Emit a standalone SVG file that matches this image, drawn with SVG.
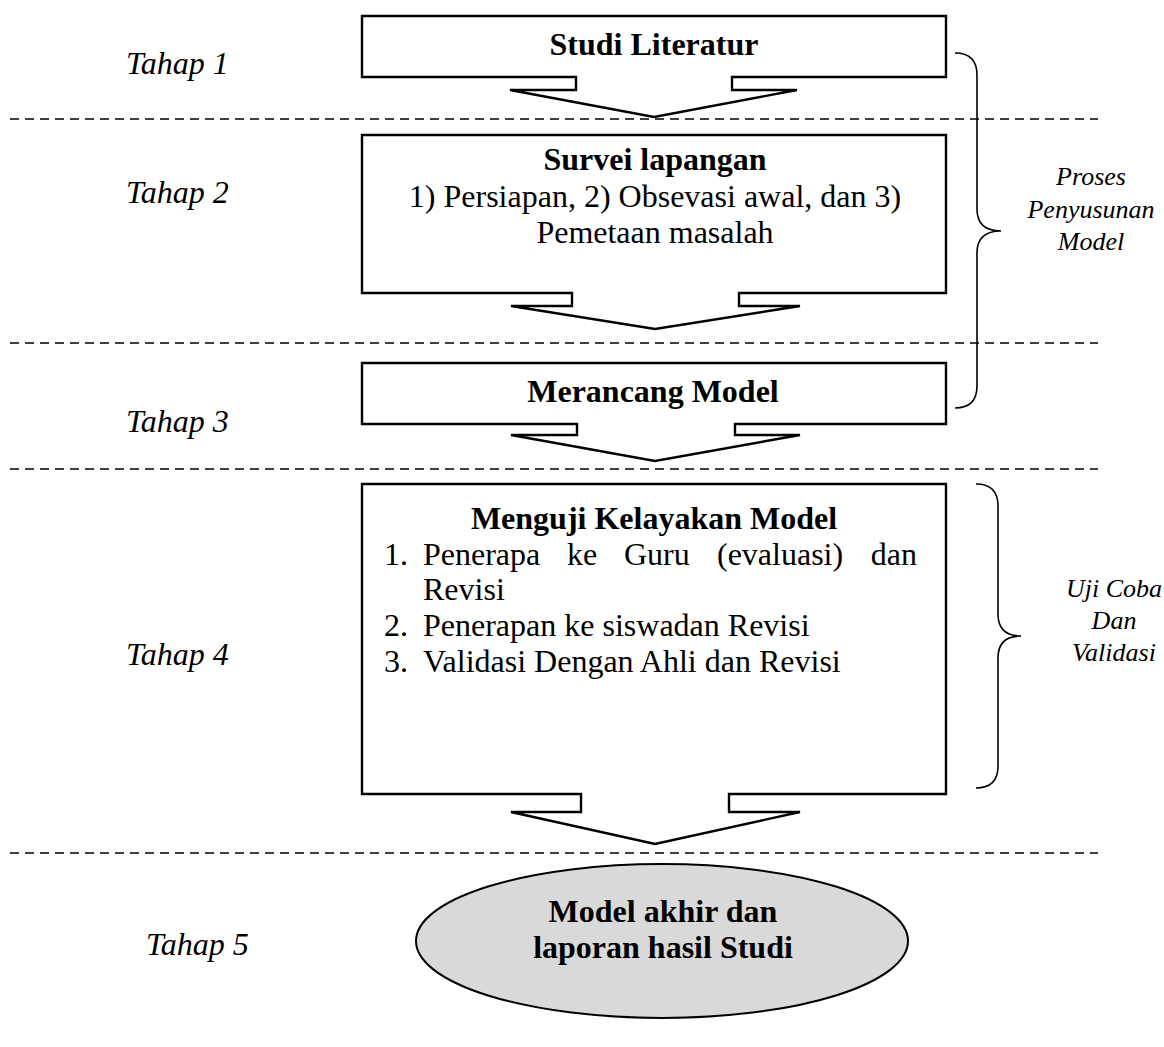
<svg xmlns="http://www.w3.org/2000/svg" width="1164" height="1047" viewBox="0 0 1164 1047">
<style>
.dash{stroke:#000;stroke-width:1.5;stroke-dasharray:9 6;fill:none}
.box{fill:#fff;stroke:#000;stroke-width:2.4;stroke-linejoin:miter}
.brace{fill:none;stroke:#000;stroke-width:1.6}
.tahap{font-family:"Liberation Serif",serif;font-style:italic;font-size:32px;fill:#000}
.side{font-family:"Liberation Serif",serif;font-style:italic;font-size:26px;fill:#000;text-anchor:middle}
.hb{font-family:"Liberation Serif",serif;font-weight:bold;font-size:32px;fill:#000;text-anchor:middle}
.tx{font-family:"Liberation Serif",serif;font-size:32px;fill:#000}
.txc{font-family:"Liberation Serif",serif;font-size:32px;fill:#000;text-anchor:middle}
</style>
<rect width="1164" height="1047" fill="#fff"/>
<g id="separators">
<line class="dash" x1="10" y1="119" x2="1098" y2="119"/>
<line class="dash" x1="10" y1="343" x2="1098" y2="343"/>
<line class="dash" x1="10" y1="469" x2="1098" y2="469"/>
<line class="dash" x1="10" y1="853" x2="1098" y2="853"/>
</g>
<g id="stage-labels">
<text class="tahap" x="126" y="74">Tahap 1</text>
<text class="tahap" x="126" y="203">Tahap 2</text>
<text class="tahap" x="126" y="432">Tahap 3</text>
<text class="tahap" x="126" y="665">Tahap 4</text>
<text class="tahap" x="146" y="955">Tahap 5</text>
</g>
<g id="connectors">
<path class="brace" d="M955,53 Q977,53 977,75 L977,209 Q977,231 1001,231 Q977,231 977,253 L977,386 Q977,408 955,408"/>
<path class="brace" d="M976,484 Q998,484 998,506 L998,614 Q998,636 1021,636 Q998,636 998,658 L998,766 Q998,788 976,788"/>
</g>
<g id="node-studi">
<path class="box" d="M362,16 H946 V77 H732 V90 H797 L654,117 L510,90 H576 V77 H362 Z"/>
<text class="hb" x="654" y="55">Studi Literatur</text>
</g>
<g id="node-survei">
<path class="box" d="M362,135 H946 V293 H739 V306 H800 L655,329 L511,306 H572 V293 H362 Z"/>
<text class="hb" x="655" y="170">Survei lapangan</text>
<text class="txc" x="655" y="207">1) Persiapan, 2) Obsevasi awal, dan 3)</text>
<text class="txc" x="655" y="243">Pemetaan masalah</text>
</g>
<g id="node-merancang">
<path class="box" d="M362,363 H946 V424 H735 V435 H800 L655,461 L511,435 H577 V424 H362 Z"/>
<text class="hb" x="653" y="402">Merancang Model</text>
</g>
<g id="node-menguji">
<path class="box" d="M362,484 H946 V794 H729 V812 H800 L655,844 L511,812 H581 V794 H362 Z"/>
<text class="hb" x="654" y="529">Menguji Kelayakan Model</text>
<text class="tx" x="384" y="565">1.</text>
<text class="tx" x="423" y="565">Penerapa</text>
<text class="tx" x="567" y="565">ke</text>
<text class="tx" x="624" y="565">Guru</text>
<text class="tx" x="717" y="565">(evaluasi)</text>
<text class="tx" x="917" y="565" text-anchor="end">dan</text>
<text class="tx" x="423" y="600">Revisi</text>
<text class="tx" x="384" y="636">2.</text>
<text class="tx" x="423" y="636">Penerapan ke siswadan Revisi</text>
<text class="tx" x="384" y="672">3.</text>
<text class="tx" x="423" y="672">Validasi Dengan Ahli dan Revisi</text>
</g>
<g id="node-akhir">
<ellipse cx="662" cy="941" rx="246" ry="77" fill="#d9d9d9" stroke="#000" stroke-width="2"/>
<text class="hb" x="663" y="922">Model akhir dan</text>
<text class="hb" x="663" y="958">laporan hasil Studi</text>
</g>
<g id="side-labels">
<text class="side" x="1091" y="185">Proses</text>
<text class="side" x="1091" y="218">Penyusunan</text>
<text class="side" x="1091" y="250">Model</text>
<text class="side" x="1114" y="597">Uji Coba</text>
<text class="side" x="1114" y="629">Dan</text>
<text class="side" x="1114" y="661">Validasi</text>
</g>
</svg>
